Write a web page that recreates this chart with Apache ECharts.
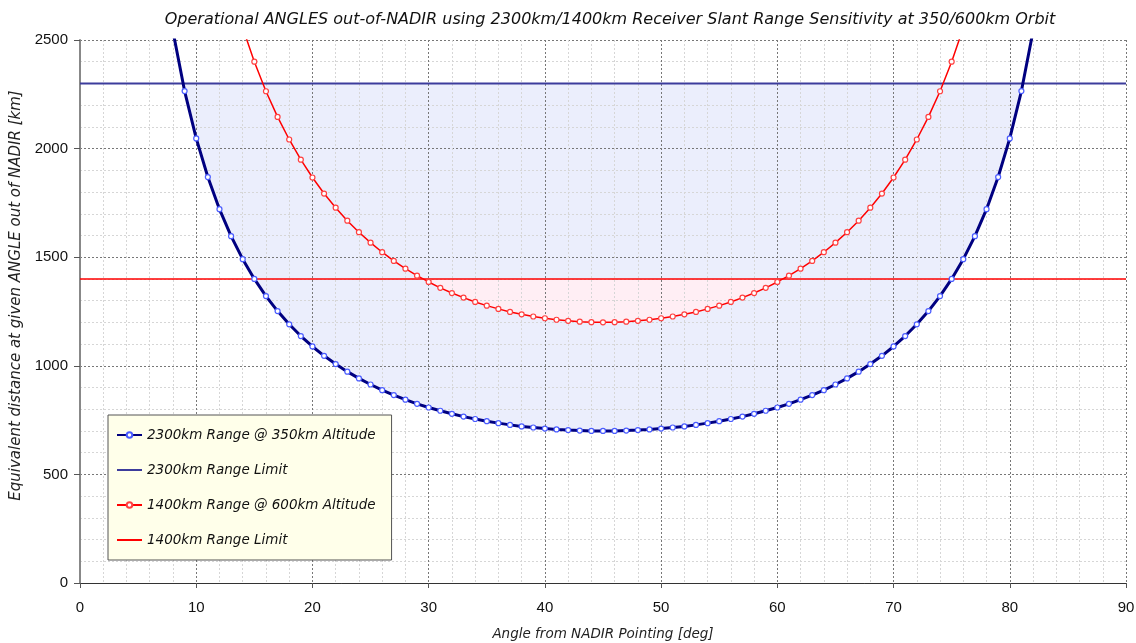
<!DOCTYPE html>
<html>
<head>
<meta charset="utf-8">
<script src="https://cdn.jsdelivr.net/npm/echarts@6/dist/echarts.min.js"></script>
<style>html,body{margin:0;padding:0;background:#fff}#c{width:1136px;height:643px}</style>
</head>
<body>
<div id="c"></div>
<script>
// ---- data ----
var titleText = 'Operational ANGLES out-of-NADIR using 2300km/1400km Receiver Slant Range Sensitivity at 350/600km Orbit';
var xName = 'Angle from NADIR Pointing [deg]';
var yName = 'Equivalent distance at given ANGLE out of NADIR [km]';
var seriesNames = ['2300km Range @ 350km Altitude', '2300km Range Limit', '1400km Range @ 600km Altitude', '1400km Range Limit'];

var blueAngles = [8,9,10,11,12,13,14,15,16,17,18,19,20,21,22,23,24,25,26,27,28,29,30,31,32,33,34,35,36,37,38,39,40,41,42,43,44,45,46,47,48,49,50,51,52,53,54,55,56,57,58,59,60,61,62,63,64,65,66,67,68,69,70,71,72,73,74,75,76,77,78,79,80,81,82];
var blueValues = [2540,2265,2047,1869,1721,1597,1491,1400,1321,1252,1191,1137,1089,1046,1008,973,942,914,888,865,844,825,808,793,779,766,755,745,736,728,721,716,711,707,704,702,700,700,700,702,704,707,711,716,721,728,736,745,755,766,779,793,808,825,844,865,888,914,942,973,1008,1046,1089,1137,1191,1252,1321,1400,1491,1597,1721,1869,2047,2265,2540];

var redAngles = [14,15,16,17,18,19,20,21,22,23,24,25,26,27,28,29,30,31,32,33,34,35,36,37,38,39,40,41,42,43,44,45,46,47,48,49,50,51,52,53,54,55,56,57,58,59,60,61,62,63,64,65,66,67,68,69,70,71,72,73,74,75,76];
var redValues = [2556,2400,2264,2146,2042,1949,1867,1793,1728,1668,1615,1567,1523,1483,1447,1415,1386,1359,1335,1314,1294,1277,1262,1248,1237,1227,1219,1212,1207,1203,1201,1200,1201,1203,1207,1212,1219,1227,1237,1248,1262,1277,1294,1314,1335,1359,1386,1415,1447,1483,1523,1567,1615,1668,1728,1793,1867,1949,2042,2146,2264,2400,2556];

var blueLimit = 2300;
var redLimit = 1400;
var blueCross = [8.87, 81.13];   // where the 350km curve meets the 2300km limit
var redCross = [29.52, 60.48];   // where the 600km curve meets the 1400km limit
var xTicks = [0, 90, 10];
var yTicks = [0, 2500, 500];

// ---- build series data ----
function pairs(xs, ys) { return xs.map(function (x, i) { return [x, ys[i]]; }); }
function fillData(xs, ys, limit, cross) {
  var d = [[cross[0], limit]];
  xs.forEach(function (x, i) { if (x > cross[0] && x < cross[1]) d.push([x, ys[i]]); });
  d.push([cross[1], limit]);
  return d;
}

var font = 'DejaVu Sans';
var chart = echarts.init(document.getElementById('c'), null, { renderer: 'canvas' });
chart.setOption({
  animation: false,
  backgroundColor: '#fff',
  title: {
    text: titleText, left: 605, top: 7, textAlign: 'center',
    textStyle: { fontFamily: font, fontStyle: 'italic', fontWeight: 'normal', fontSize: 16, color: '#111' }
  },
  grid: { left: 80, right: 10, top: 40, bottom: 60, containLabel: false, outerBoundsMode: 'none' },
  legend: {
    orient: 'vertical', left: 108, top: 415,
    data: [
      { name: seriesNames[0] },
      { name: seriesNames[1], itemStyle: { opacity: 0 } },
      { name: seriesNames[2] },
      { name: seriesNames[3], itemStyle: { opacity: 0 } }
    ],
    backgroundColor: '#ffffea', borderColor: '#555', borderWidth: 1,
    padding: [12, 16, 12, 8], itemGap: 19, itemWidth: 25, itemHeight: 7,
    textStyle: { fontFamily: font, fontStyle: 'italic', fontSize: 13.5, color: '#111', lineHeight: 16 }
  },
  xAxis: {
    type: 'value', min: xTicks[0], max: xTicks[1], interval: xTicks[2],
    name: xName, nameLocation: 'middle', nameGap: 44,
    nameTextStyle: { fontFamily: font, fontStyle: 'italic', fontSize: 13.5, color: '#222' },
    axisLine: { show: true, lineStyle: { color: '#333', width: 1 } },
    axisTick: { show: true, length: 5, lineStyle: { color: '#555' } },
    axisLabel: { fontFamily: 'Liberation Sans', fontSize: 15, color: '#111', margin: 17 },
    splitLine: { show: true, lineStyle: { color: '#777', type: [2, 2], width: 1 } },
    minorTick: { show: false, splitNumber: 5 },
    minorSplitLine: { show: true, lineStyle: { color: '#d6d6d6', type: [2, 2], width: 1 } }
  },
  yAxis: {
    type: 'value', min: yTicks[0], max: yTicks[1], interval: yTicks[2],
    name: yName, nameLocation: 'middle', nameGap: 51,
    nameTextStyle: { fontFamily: font, fontStyle: 'italic', fontSize: 15, color: '#222', padding: [0, 0, 0, 32] },
    axisLine: { show: true, lineStyle: { color: '#888', width: 2 } },
    axisTick: { show: true, length: 6, lineStyle: { color: '#555' } },
    axisLabel: { fontFamily: 'Liberation Sans', fontSize: 15, color: '#111', margin: 12,
      formatter: function (v) { return String(v); } },
    splitLine: { show: true, lineStyle: { color: '#777', type: [2, 2], width: 1 } },
    minorTick: { show: false, splitNumber: 5 },
    minorSplitLine: { show: true, lineStyle: { color: '#d6d6d6', type: [2, 2], width: 1 } }
  },
  series: [
    {
      name: 'fillBlue', type: 'line', z: -2, silent: true, symbol: 'none',
      data: fillData(blueAngles, blueValues, blueLimit, blueCross),
      lineStyle: { width: 0, opacity: 0 },
      areaStyle: { color: '#ebeefc', opacity: 1, origin: blueLimit }
    },
    {
      name: 'fillRed', type: 'line', z: -1, silent: true, symbol: 'none',
      data: fillData(redAngles, redValues, redLimit, redCross),
      lineStyle: { width: 0, opacity: 0 },
      areaStyle: { color: '#ffeef4', opacity: 1, origin: redLimit }
    },
    {
      name: seriesNames[1], type: 'line', symbol: 'none', z: 3,
      data: [[xTicks[0], blueLimit], [xTicks[1], blueLimit]],
      lineStyle: { color: '#3c3c9c', width: 2 }, itemStyle: { color: '#3c3c9c' }
    },
    {
      name: seriesNames[3], type: 'line', symbol: 'none', z: 3,
      data: [[xTicks[0], redLimit], [xTicks[1], redLimit]],
      lineStyle: { color: '#ff0000', width: 1.5 }, itemStyle: { color: '#ff0000' }
    },
    {
      name: seriesNames[2], type: 'line', z: 4, smooth: false,
      data: pairs(redAngles, redValues),
      symbol: 'circle', symbolSize: 5, showAllSymbol: true,
      lineStyle: { color: '#ff0000', width: 1.5 },
      itemStyle: { color: '#ffffff', borderColor: '#ff4040', borderWidth: 1.2 }
    },
    {
      name: seriesNames[0], type: 'line', z: 5, smooth: false,
      data: pairs(blueAngles, blueValues),
      symbol: 'circle', symbolSize: 5, showAllSymbol: true,
      lineStyle: { color: '#000080', width: 3 },
      itemStyle: { color: '#ffffff', borderColor: '#4a5cff', borderWidth: 1.2 }
    }
  ]
});
</script>
</body>
</html>
